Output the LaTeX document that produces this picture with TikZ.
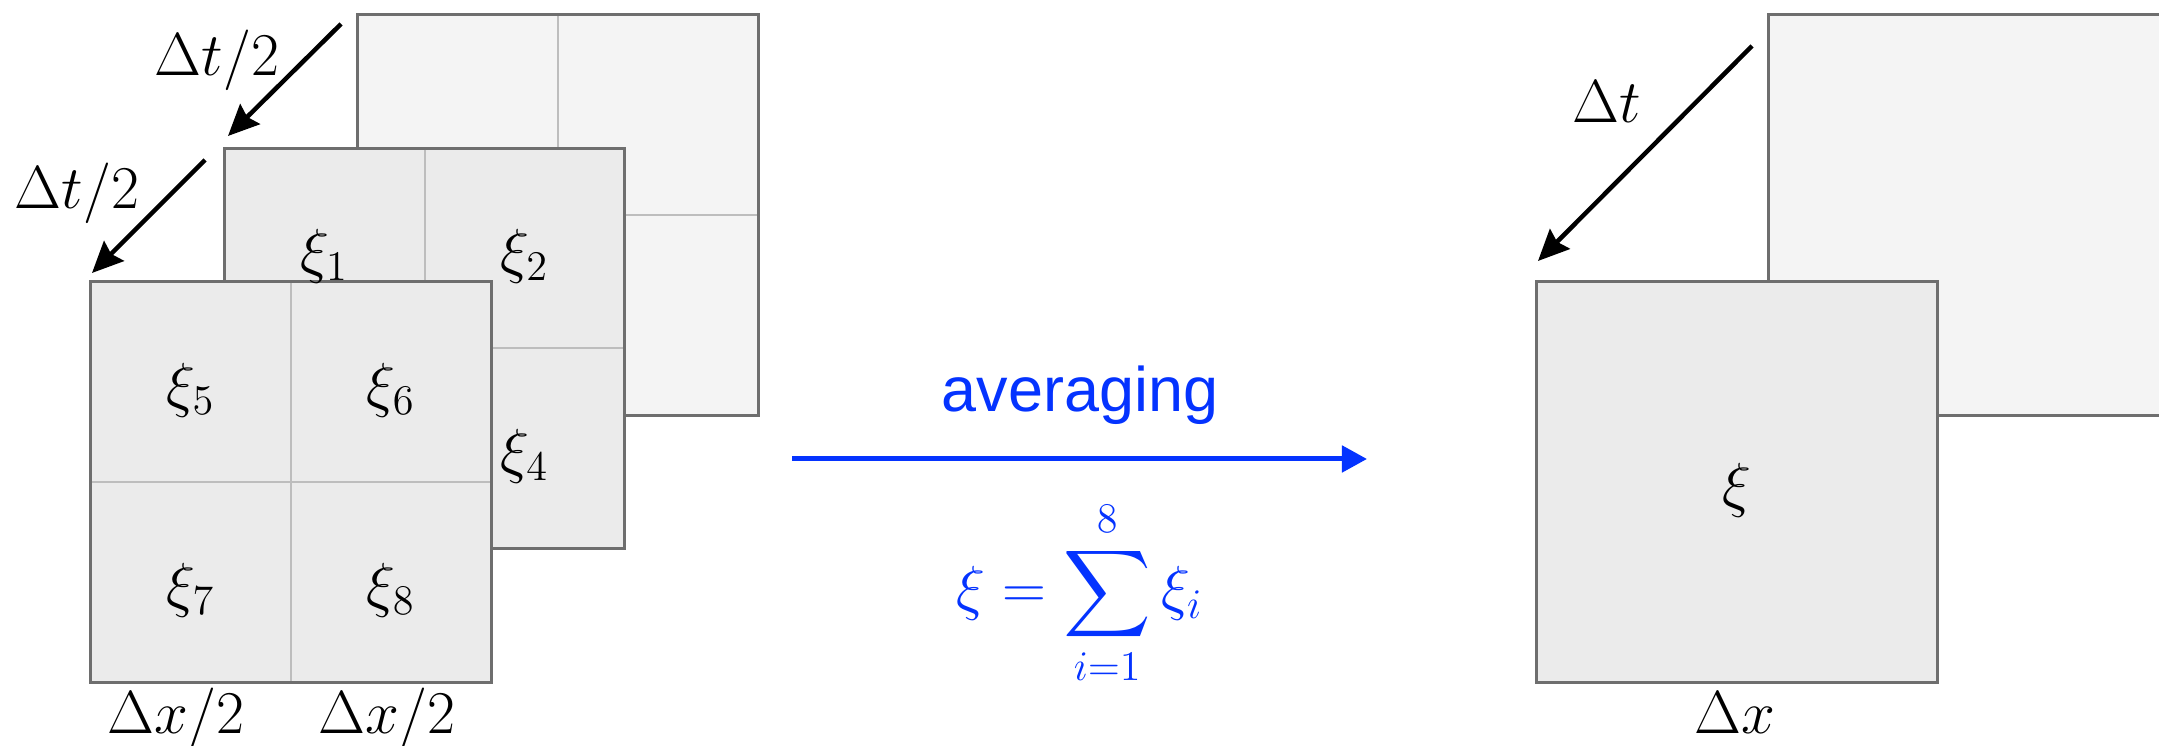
\documentclass[tikz,border=0pt]{standalone}
\usepackage{exscale}
\usepackage{fontspec}
\newfontfamily\avgfont{Liberation Sans}
\usetikzlibrary{arrows.meta,positioning,calc}
\definecolor{sqedge}{HTML}{6E6E6E}
\definecolor{sqline}{HTML}{BDBDBD}
\definecolor{frontfill}{HTML}{EBEBEB}
\definecolor{backfill}{HTML}{F4F4F4}
\definecolor{avgblue}{HTML}{0433FF}
\begin{document}
\begin{tikzpicture}[x=0.01cm,y=0.01cm,font=\fontsize{16.5}{19}\selectfont,
  sq/.style={draw=sqedge,line width=0.03cm,fill=frontfill,minimum size=4cm,inner sep=0pt,outer sep=0pt},
  bk/.style={sq,fill=backfill},
  gl/.style={draw=sqline,line width=0.02cm,shorten <=0.015cm,shorten >=0.015cm},
  arr/.style={-{Stealth[length=0.31cm,width=0.28cm,inset=0.04cm]},line width=0.045cm},
  avg/.style={-{Triangle[length=0.25cm,width=0.26cm]},line width=0.05cm,draw=avgblue},
  bot/.style={anchor=base,inner sep=0pt}]
  \clip (0,0) rectangle (2159,746);
  \node[bk](b) at (558,531){};
  \draw[gl](b.north)--(b.south);\draw[gl](b.west)--(b.east);
  \node[sq](m) at ($(b)+(-133.5,-133.5)$){};
  \draw[gl](m.north)--(m.south);\draw[gl](m.west)--(m.east);
  \node[sq](f) at ($(m)+(-133.5,-133.5)$){};
  \draw[gl](f.north)--(f.south);\draw[gl](f.west)--(f.east);
  \foreach \s/\a/\o/\k in {m/north west/south east/1,m/north east/south west/2,m/south east/north west/4,
    f/north west/south east/5,f/north east/south west/6,f/south west/north east/7,f/south east/north west/8}
    \node[yshift=-0.08cm](xi\k) at ($(\s.\a)!0.25!(\s.\o)$){$\xi_\k$};
  \coordinate(t1s) at (341,722);\coordinate(t1e) at (228,610);
  \coordinate(t2s) at (205,586);\coordinate(t2e) at (92,473);
  \draw[arr](t1s)--(t1e);\draw[arr](t2s)--(t2e);
  \node(dt1) at (217,686){$\Delta t/2$};
  \node(dt2) at (77,553){$\Delta t/2$};
  \node[bot](dx1) at (176,12){$\Delta x/2$};
  \node[bot](dx2) at (387,12){$\Delta x/2$};
  \coordinate(as) at (792,287);\coordinate(ae) at (1367,287);
  \draw[avg](as)--(ae);
  \node[anchor=base,text=avgblue,font=\avgfont\fontsize{17.9}{20}\selectfont](av) at (1080,334){averaging};
  \node[text=avgblue,font=\fontsize{17.5}{20}\selectfont](sum) at (1080,153){$\displaystyle\xi=\sum_{i=1}^{8}\xi_i$};
  \node[bk](rb) at (1969,531){};
  \node[sq](rf) at (1737,264){};
  \node[yshift=-0.08cm](xi) at (rf){$\xi$};
  \coordinate(ts) at (1752,700);\coordinate(te) at (1538,485);
  \draw[arr](ts)--(te);
  \node(dt) at (1607,644){$\Delta t$};
  \node[bot](dx) at (1735,12){$\Delta x$};
\end{tikzpicture}
\end{document}
